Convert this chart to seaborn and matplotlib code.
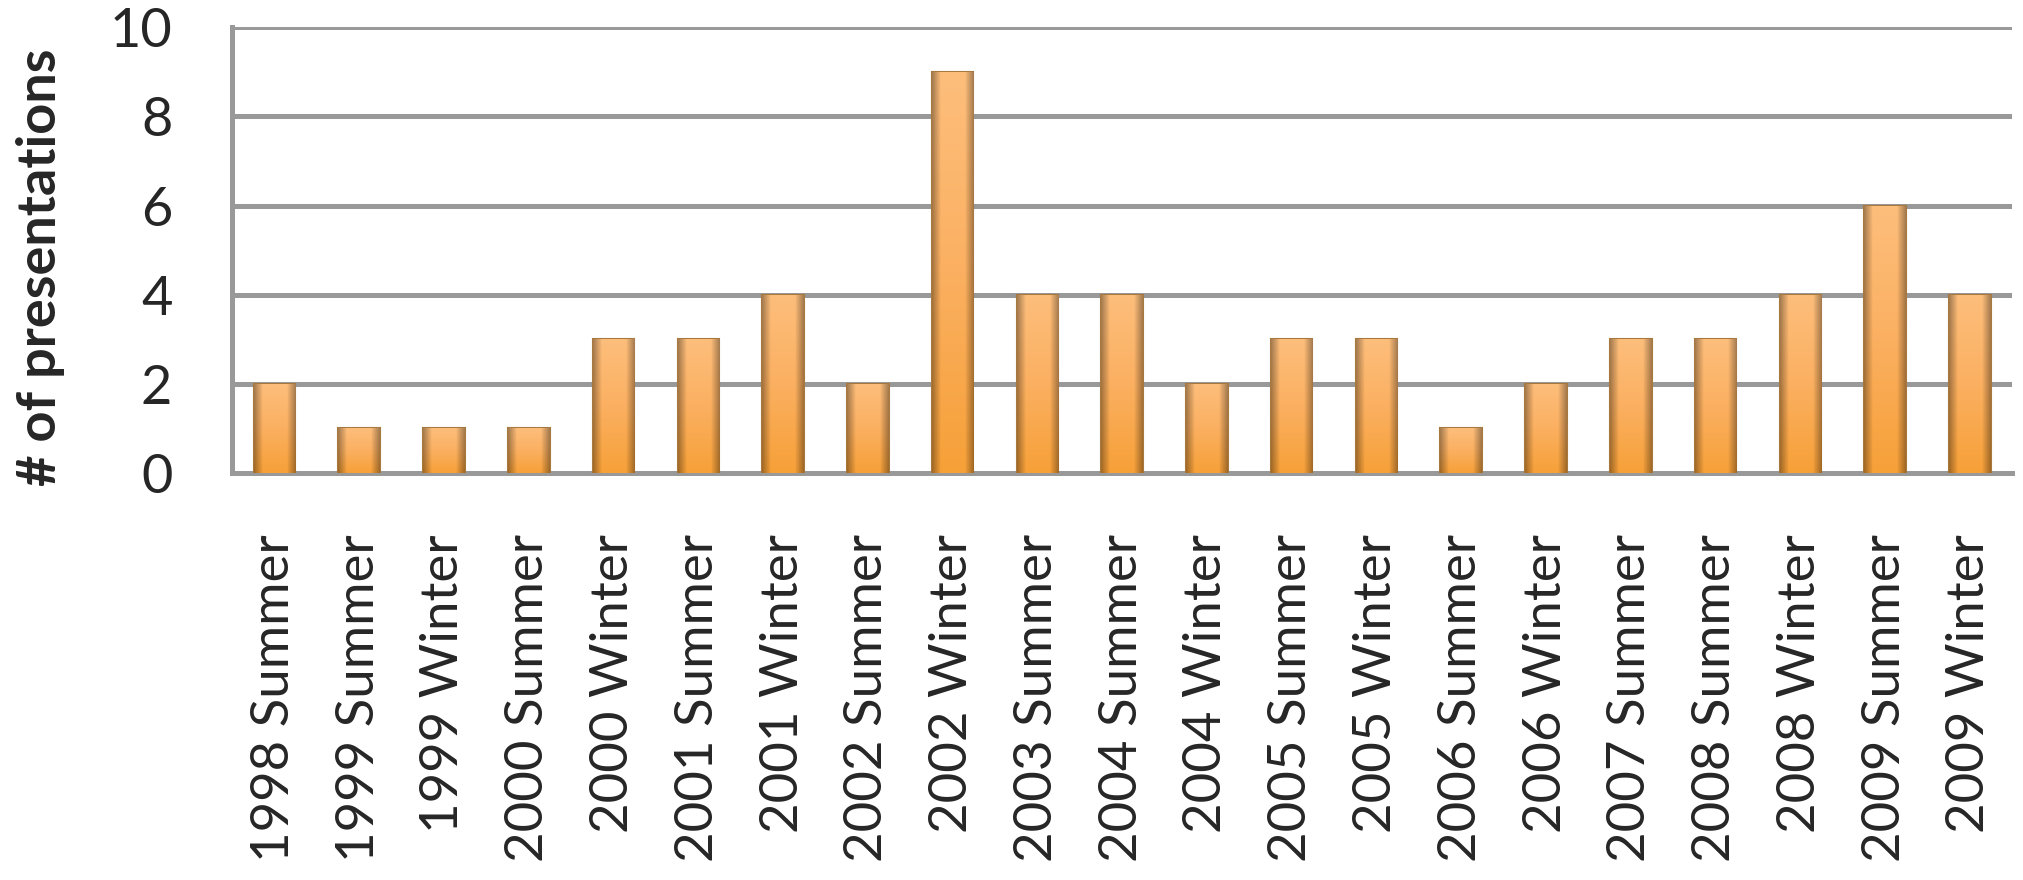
"""Presentations per conference session bar chart."""

import pandas as pd
import numpy as np
import matplotlib
matplotlib.use("Agg")
import matplotlib.pyplot as plt
from matplotlib.colors import LinearSegmentedColormap
import seaborn as sns

sessions = [
    '1998 Summer', '1999 Summer', '1999 Winter', '2000 Summer', '2000 Winter',
    '2001 Summer', '2001 Winter', '2002 Summer', '2002 Winter', '2003 Summer',
    '2004 Summer', '2004 Winter', '2005 Summer', '2005 Winter', '2006 Summer',
    '2006 Winter', '2007 Summer', '2008 Summer', '2008 Winter', '2009 Summer',
    '2009 Winter',
]
presentations = [2, 1, 1, 1, 3, 3, 4, 2, 9, 4, 4, 2, 3, 3, 1, 2, 3, 3, 4, 6, 4]
y_ticks = [0, 2, 4, 6, 8, 10]

df = pd.DataFrame({'session': sessions, 'count': presentations})

sns.set_style("white")
plt.rcParams['font.family'] = ['Lato', 'DejaVu Sans']

grid_color = '#999999'

fig = plt.figure(figsize=(20.23, 8.8), dpi=100)
ax = fig.add_axes([0.1147, 0.4625, 0.88, 0.5065])

ax.yaxis.grid(True, color=grid_color, linewidth=3.6, zorder=0)
ax.set_axisbelow(True)

sns.barplot(data=df, x='session', y='count', color='#F9AA52', width=0.49,
            edgecolor='#A8793E', linewidth=1.5, saturation=1, ax=ax, zorder=3)

# orange gradient fill clipped to each bar, with darker sides
cmap = LinearSegmentedColormap.from_list('bar', ['#F6A038', '#FBB061', '#FDBE7C'])
side = LinearSegmentedColormap.from_list(
    'side', [(0, 0, 0, 0.35), (0, 0, 0, 0.0), (0, 0, 0, 0.0), (0, 0, 0, 0.35)])
vgrad = np.linspace(0, 1, 256).reshape(-1, 1)
hgrad = np.concatenate([np.linspace(0, 0.3, 20), np.full(60, 0.5),
                        np.linspace(0.7, 1, 20)]).reshape(1, -1)
for patch in list(ax.patches):
    x0, w, h = patch.get_x(), patch.get_width(), patch.get_height()
    ext = [x0, x0 + w, 0, h]
    im = ax.imshow(vgrad, cmap=cmap, aspect='auto', extent=ext, origin='lower',
                   zorder=3.5)
    im.set_clip_path(patch)
    im2 = ax.imshow(hgrad, cmap=side, aspect='auto', extent=ext, origin='lower',
                    zorder=3.6)
    im2.set_clip_path(patch)

ax.set_ylim(0, 10)
ax.set_xlim(-0.5, len(sessions) - 0.5)
ax.set_yticks(y_ticks)
ax.set_yticklabels([str(t) for t in y_ticks], fontsize=39)

# ticks between categories, labels at centres
ax.set_xticks(np.arange(len(sessions)))
ax.set_xticklabels(sessions, rotation=90, fontsize=38, va='top', ha='center')
ax.tick_params(axis='x', length=0, pad=44)
ax.set_xticks(np.arange(len(sessions) + 1) - 0.5, minor=True)
ax.tick_params(axis='x', which='minor', length=12, width=3.6, color=grid_color,
               direction='out')
ax.tick_params(axis='y', length=14, width=3.6, color=grid_color, pad=29)

for s in ['top', 'right']:
    ax.spines[s].set_visible(False)
for s in ['left', 'bottom']:
    ax.spines[s].set_color(grid_color)
    ax.spines[s].set_linewidth(3.6)

ax.set_xlabel('')
ax.set_ylabel('# of presentations', fontsize=39, fontweight='bold')
ax.yaxis.set_label_coords(-0.094, 0.462)

fig.savefig('out.png', dpi=100)
